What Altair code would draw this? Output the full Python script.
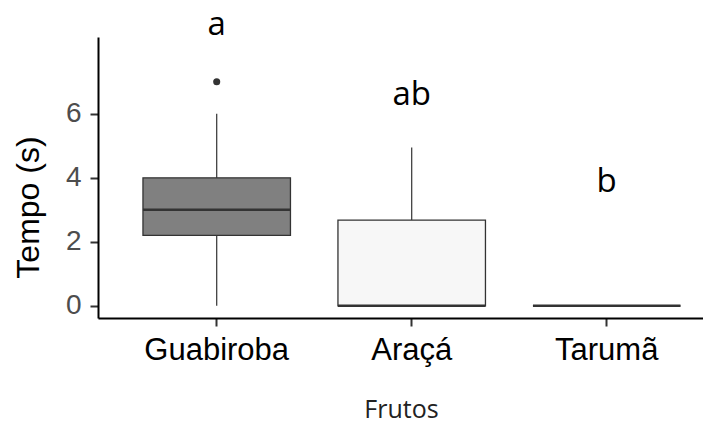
import altair as alt
import pandas as pd

# ---- data ----
frutos = ["Guabiroba", "Araçá", "Tarumã"]
lower = [0.0, 0.0, 0.0]
q1 = [2.2, 0.0, 0.0]
median = [3.0, 0.0, 0.0]
q3 = [4.0, 2.68, 0.0]
upper = [6.0, 4.95, 0.0]
fills = ["#808080", "#F7F7F7", "#F7F7F7"]

out_fruto = ["Guabiroba"]
out_val = [7.0]

letters = ["a", "ab", "b"]
letter_y = [8.46, 6.27, 3.55]

y_ticks = [0, 2, 4, 6]

# ---- tables ----
box = pd.DataFrame({"fruto": frutos, "lower": lower, "q1": q1, "median": median,
                    "q3": q3, "upper": upper, "fill": fills})
outl = pd.DataFrame({"fruto": out_fruto, "valor": out_val})
lab = pd.DataFrame({"fruto": frutos, "letra": letters, "pos": letter_y})

xscale = alt.Scale(type="band", domain=frutos, paddingInner=0.2436,
                   paddingOuter=0.1731, align=0.666)
yscale = alt.Scale(domain=[-0.38, 8.40], nice=False, zero=False)

xaxis = alt.Axis(title="Frutos", grid=False, domainColor="black", domainWidth=2,
                 tickColor="#333333", tickWidth=2, tickSize=8,
                 labelFont="Liberation Sans", labelFontSize=31, labelColor="black",
                 labelPadding=9, labelAngle=0,
                 titleFont="Open Sans", titleFontSize=25, titleColor="#222222",
                 titleFontWeight="normal", titleX=303, titleY=99,
                 titleBaseline="alphabetic", titleAlign="center")
yaxis = alt.Axis(title="Tempo (s)", values=y_ticks, grid=False, domainColor="black",
                 domainWidth=2, tickColor="#333333", tickWidth=2, tickSize=8,
                 labelFont="Liberation Sans", labelFontSize=28, labelColor="#4D4D4D",
                 labelPadding=9,
                 titleFont="Liberation Sans", titleFontSize=32, titleColor="black",
                 titleFontWeight="normal", titleAngle=270, titleX=-70, titleY=170,
                 titleAlign="center", titleBaseline="middle")

BW = 147.5

whisk = alt.Chart(box).mark_rule(color="#333333", strokeWidth=1.2).encode(
    x=alt.X("fruto:N", scale=xscale, axis=xaxis, sort=frutos),
    y=alt.Y("lower:Q", scale=yscale, axis=yaxis),
    y2="upper:Q",
)

boxes = alt.Chart(box).mark_bar(size=BW, stroke="#333333", strokeWidth=1.3).encode(
    x=alt.X("fruto:N", scale=xscale, sort=frutos),
    y=alt.Y("q1:Q", scale=yscale),
    y2="q3:Q",
    fill=alt.Fill("fill:N", scale=None, legend=None),
)

meds = alt.Chart(box).mark_tick(size=BW, thickness=2.5, color="#333333", opacity=1).encode(
    x=alt.X("fruto:N", scale=xscale, sort=frutos),
    y=alt.Y("median:Q", scale=yscale),
)

pts = alt.Chart(outl).mark_circle(size=50, color="#333333", opacity=1).encode(
    x=alt.X("fruto:N", scale=xscale, sort=frutos),
    y=alt.Y("valor:Q", scale=yscale),
)

txt = alt.Chart(lab).mark_text(font="Open Sans", fontSize=33, color="black",
                               baseline="alphabetic", align="center").encode(
    x=alt.X("fruto:N", scale=xscale, sort=frutos),
    y=alt.Y("pos:Q", scale=yscale),
    text="letra:N",
)

chart = alt.layer(whisk, boxes, meds, pts, txt).properties(
    width=605, height=281,
    background="white",
    autosize=alt.AutoSizeParams(type="none"),
    padding={"left": 90, "top": 29, "right": 0, "bottom": 106},
).configure_view(stroke=None)

chart.save("out.html", embed_options={"renderer": "svg", "actions": False})
